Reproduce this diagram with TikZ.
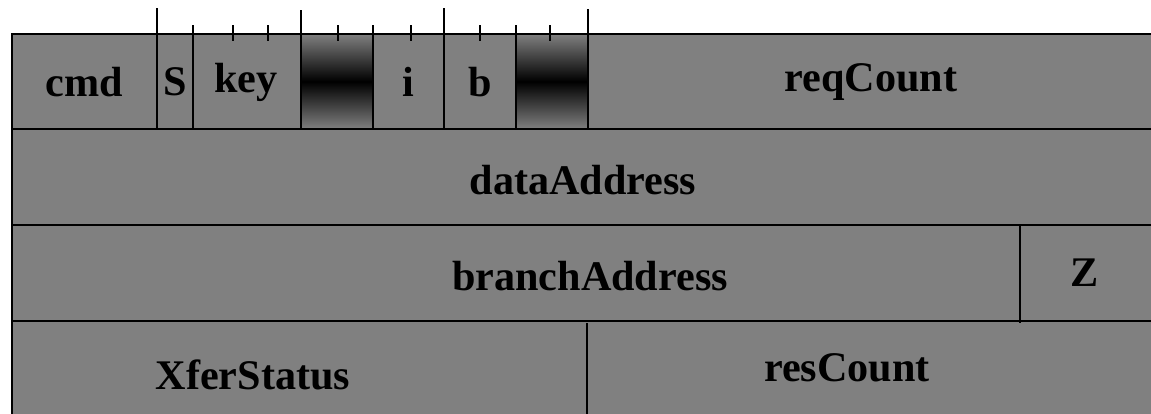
\documentclass[tikz,border=0pt]{standalone}
\usepackage{fontspec}
\setmainfont{Liberation Serif}
\definecolor{campo}{HTML}{808080}
\pgfdeclareverticalshading{reservado}{100bp}{color(0bp)=(black!50); color(25bp)=(black!50); color(50bp)=(black); color(75bp)=(black!50); color(100bp)=(black!50)}
\begin{document}
\begin{tikzpicture}[x=0.025cm, y=-0.025cm,
  lbl/.style={font=\fontsize{30}{36}\selectfont\bfseries},
  hline/.style={line width=1.4pt},
  vline/.style={line width=1pt}]
\useasboundingbox (0,0) rectangle (1151,414);

% fondo gris de la palabra
\fill[campo] (12,34) rectangle (1151,414);

% campos reservados (sombreados)
\shade[shading=reservado] (301,34) rectangle (373,129);
\shade[shading=reservado] (516,34) rectangle (588,129);

% lineas horizontales
\draw[hline] (1151,34) -- (12,34) -- (12,414);
\draw[hline] (12,129) -- (1151,129);
\draw[hline] (12,225) -- (1151,225);
\draw[hline] (12,321) -- (1151,321);

% marcas largas + separadores
\foreach \x/\y in {157/8, 301/10, 444/8, 588/9}
  \draw[vline] (\x,\y) -- (\x,129);
% separadores cortos
\foreach \x in {193, 373, 516}
  \draw[vline] (\x,25) -- (\x,129);
% marcas de bit
\foreach \x in {233, 268, 338, 411, 480, 550}
  \draw[vline] (\x,25) -- (\x,41);

\draw[vline] (1020,225) -- (1020,323);
\draw[vline] (587,323) -- (587,414);

% textos
\node[lbl] (cmd) at (84,82) {cmd};
\node[lbl] (s) at (175,82) {S};
\node[lbl] (key) at (246,82) {key};
\node[lbl] (i) at (408,82) {i};
\node[lbl] (b) at (480,82) {b};
\node[lbl] (req) at (871,82) {reqCount};
\node[lbl] (data) at (583,180) {dataAddress};
\node[lbl] (branch) at (590,276) {branchAddress};
\node[lbl] (z) at (1085,273) {Z};
\node[lbl] (xfer) at (253,375) {XferStatus};
\node[lbl] (res) at (847,368) {resCount};
\end{tikzpicture}
\end{document}
